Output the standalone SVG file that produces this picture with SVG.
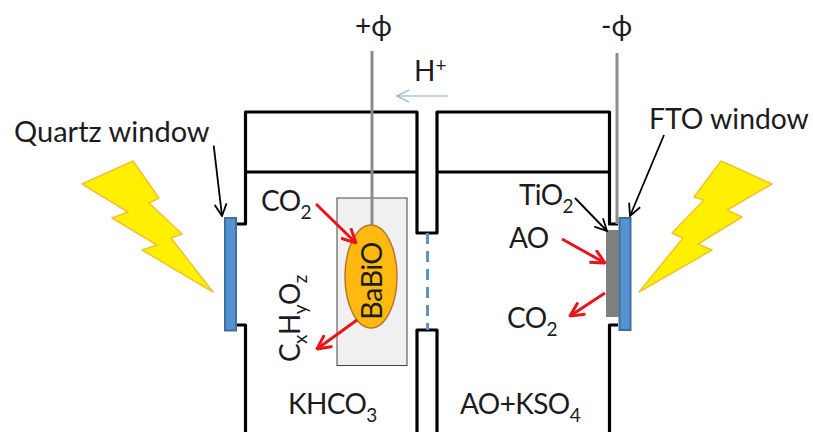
<svg xmlns="http://www.w3.org/2000/svg" width="813" height="432" viewBox="0 0 813 432">
<style>
text{font-family:Lato,"Liberation Sans",sans-serif;font-size:28px;fill:#1c1c1c}
.chem{letter-spacing:-0.6px}
.sub{font-size:19px}
.wall{fill:none;stroke:#000;stroke-width:3.2;stroke-linejoin:round}
.wire{fill:none;stroke:#8c8c8c;stroke-width:3}
.win{fill:#5592d0;stroke:#3f6f9f;stroke-width:2}
.bolt{fill:#ffef00;stroke:#f2c230;stroke-width:1.5;stroke-linejoin:round}
.blk{fill:none;stroke:#000;stroke-width:1.8;marker-end:url(#hb)}
.red{fill:none;stroke:#e8141c;stroke-width:3;marker-end:url(#hr)}
</style>
<defs>
<marker id="hb" viewBox="0 0 14 14" refX="13" refY="7" markerWidth="14" markerHeight="14" markerUnits="userSpaceOnUse" orient="auto"><path d="M1 1L13 7L1 13" fill="none" stroke="#000" stroke-width="1.8"/></marker>
<marker id="hr" viewBox="0 0 16 16" refX="15" refY="8" markerWidth="16" markerHeight="16" markerUnits="userSpaceOnUse" orient="auto"><path d="M1 1L15 8L1 15" fill="none" stroke="#e8141c" stroke-width="3"/></marker>
<marker id="hl" viewBox="0 0 14 14" refX="13" refY="7" markerWidth="14" markerHeight="14" markerUnits="userSpaceOnUse" orient="auto"><path d="M1 1L13 7L1 13" fill="none" stroke="#7fb0d0" stroke-width="1.2"/></marker>
</defs>
<rect width="813" height="432" fill="#fff"/>
<g id="cell-walls">
<path class="wall" d="M236 224H245.500V112H417V233H437V112H609.500V224H618"/>
<path class="wall" d="M245.500 172H417M437 172H609.500"/>
<path class="wall" d="M236 325H245.500V432M417 432V330H437V432M618 325H609.500V432"/>
</g>
<g id="membrane"><path d="M427.500 233V330" fill="none" stroke="#5f93c4" stroke-width="3" stroke-dasharray="11 7"/></g>
<g id="photoanode-sample"><rect x="337" y="198" width="70" height="167.500" fill="#f0f0f0" stroke="#444" stroke-width="1"/></g>
<g id="wire-left"><path class="wire" d="M372 51V226"/></g>
<g id="wire-right"><path class="wire" d="M617 53V224"/></g>
<g id="babio"><ellipse cx="371" cy="276.500" rx="26" ry="51.500" fill="#ffb90f" stroke="#b9772a" stroke-width="1.500"/>
<text class="chem" style="font-size:29px" transform="translate(382 320) rotate(-90)">BaBiO</text></g>
<g id="quartz-window"><rect class="win" x="225" y="218" width="11" height="112.500"/></g>
<g id="fto-window"><rect class="win" x="619.500" y="218" width="11" height="112"/></g>
<g id="tio2-layer"><rect x="606" y="230" width="13" height="87" fill="#7f7f7f"/></g>
<g id="bolt-left"><path class="bolt" d="M82 184L133 161L159 198L149 203L182 234L171 238L213 292L142 250L157 245L112 218L128 212Z"/></g>
<g id="bolt-right"><path class="bolt" d="M721 161L772 184L727 210L742 217L698 244L712 250L639 292L683 238L672 233L704 200L694 197Z"/></g>
<g id="connectors">
<path class="blk" d="M213.700 145.700L222 216"/>
<path class="blk" d="M664 135L630 216"/>
<path class="blk" d="M575 198L607 231"/>
<path class="red" d="M316 204L356 243"/>
<path class="red" d="M357 320L317 349"/>
<path class="red" d="M562 239L605 263"/>
<path class="red" d="M605 293L570 316"/>
<path d="M448 96H397" fill="none" stroke="#7fb0d0" stroke-width="1.200" marker-end="url(#hl)"/>
</g>
<g id="labels">
<text style="font-size:29px" x="14" y="142">Quartz window</text>
<text style="font-size:28.300px" x="649" y="129">FTO window</text>
<text x="355" y="36">+ϕ</text>
<text x="601" y="36">-ϕ</text>
<text x="414" y="81">H<tspan class="sub" dy="-9">+</tspan></text>
<text class="chem" x="261" y="211">CO<tspan class="sub" dy="8">2</tspan></text>
<text class="chem" x="519" y="205">TiO<tspan class="sub" dy="8">2</tspan></text>
<text class="chem" x="509" y="248">AO</text>
<text class="chem" x="507" y="328">CO<tspan class="sub" dy="8">2</tspan></text>
<text class="chem" transform="translate(300 362) rotate(-90)">C<tspan class="sub" dy="7">x</tspan><tspan dy="-7">H</tspan><tspan class="sub" dy="7">y</tspan><tspan dy="-7">O</tspan><tspan class="sub" dy="7">z</tspan></text>
<text class="chem" x="288" y="414">KHCO<tspan class="sub" dy="8">3</tspan></text>
<text class="chem" x="460" y="414">AO+KSO<tspan class="sub" dy="8">4</tspan></text>
</g>
</svg>
